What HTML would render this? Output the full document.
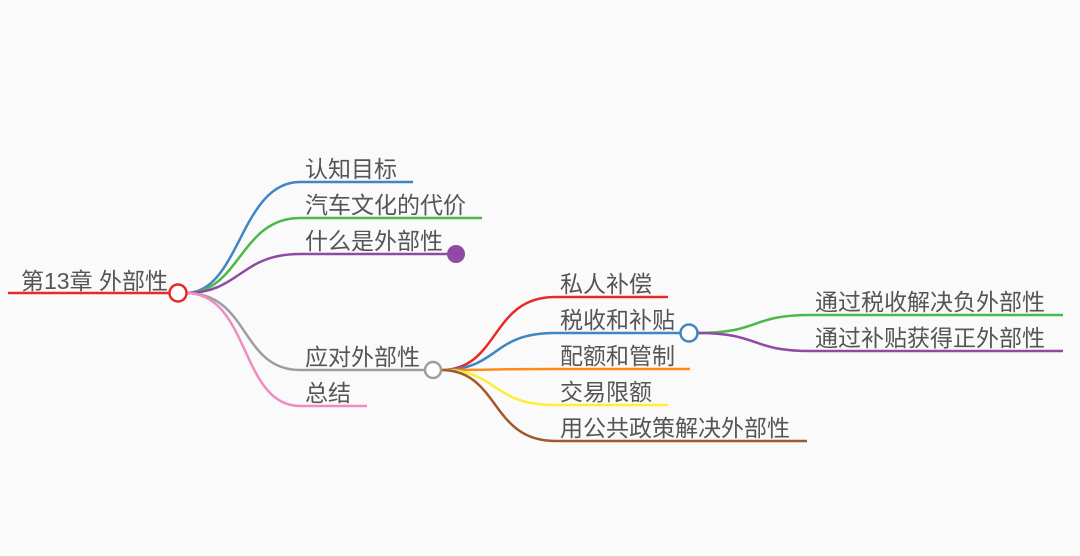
<!DOCTYPE html>
<html><head><meta charset="utf-8"><style>
html,body{margin:0;padding:0;background:#fafafa;}
svg text{font-family:"Liberation Sans","Noto Sans CJK SC",sans-serif;font-size:23px;fill:#555;}
</style></head><body>
<svg width="1080" height="551" viewBox="0 0 1080 551" xmlns="http://www.w3.org/2000/svg">
<rect width="1080" height="551" fill="#fafafa"/>
<g fill="none" stroke-width="2.5">
<line x1="8" y1="293" x2="170" y2="293" stroke="#e52a2a"/>
<path d="M186,293 C240,293 240,182 300,182 L413,182" stroke="#3e86c4"/>
<path d="M186,293 C240,293 240,218 300,218 L482,218" stroke="#4cb84a"/>
<path d="M186,293 C240,293 240,254 300,254 L456,254" stroke="#8f4aa3"/>
<path d="M186,293 C250,293 240,370 300,370 L425,370" stroke="#9e9e9e"/>
<path d="M186,293 C250,293 240,406 300,406 L367,406" stroke="#f08bc3"/>
<path d="M441,370 C500,370 490,297 555,297 L668,297" stroke="#e52a2a"/>
<path d="M441,370 C500,370 490,333 555,333 L680,333" stroke="#3e86c4"/>
<path d="M441,370 C500,370 490,369 555,369 L690,369" stroke="#ff8a1a"/>
<path d="M441,370 C500,370 490,405 555,405 L668,405" stroke="#ffee33"/>
<path d="M441,370 C500,370 490,441 555,441 L807,441" stroke="#a0582c"/>
<path d="M698,333 C760,333 750,315 810,315 L1063,315" stroke="#4cb84a"/>
<path d="M698,333 C760,333 750,351 810,351 L1063,351" stroke="#8f4aa3"/>
</g>
<circle cx="178" cy="293" r="8.5" fill="#fff" stroke="#e52a2a" stroke-width="2.5"/>
<circle cx="456" cy="254" r="9" fill="#8f4aa3"/>
<circle cx="433" cy="370" r="8" fill="#fff" stroke="#9e9e9e" stroke-width="2.5"/>
<circle cx="689" cy="333" r="8.5" fill="#fff" stroke="#3e86c4" stroke-width="2.5"/>
<text x="21" y="289">第13章 外部性</text>
<text x="305" y="177">认知目标</text>
<text x="305" y="213">汽车文化的代价</text>
<text x="305" y="249">什么是外部性</text>
<text x="305" y="365">应对外部性</text>
<text x="305" y="401">总结</text>
<text x="560" y="292">私人补偿</text>
<text x="560" y="328">税收和补贴</text>
<text x="560" y="364">配额和管制</text>
<text x="560" y="400">交易限额</text>
<text x="560" y="436">用公共政策解决外部性</text>
<text x="815" y="310">通过税收解决负外部性</text>
<text x="815" y="346">通过补贴获得正外部性</text>
</svg>
</body></html>
